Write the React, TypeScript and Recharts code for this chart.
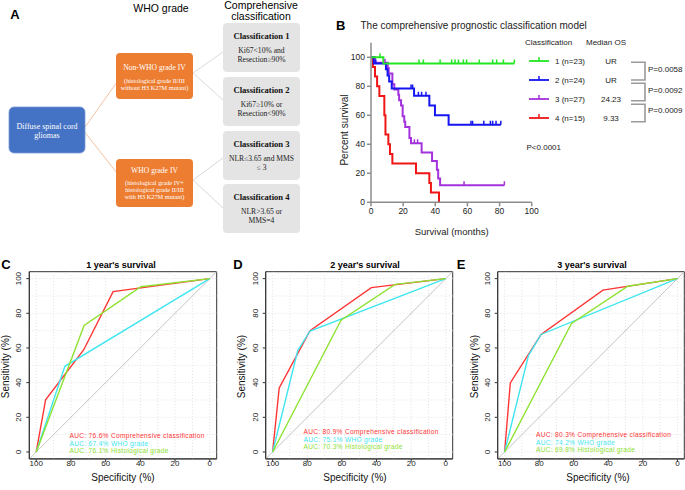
import React from "react";
import {
  ComposedChart,
  LineChart,
  Line,
  Scatter,
  XAxis,
  YAxis,
  ReferenceLine,
  ReferenceArea,
} from "recharts";

const SANS = '"Liberation Sans", Arial, sans-serif';
const SERIF = '"Liberation Serif", "Times New Roman", serif';

// ---------- Panel B: Kaplan-Meier data (months, percent survival)
const kmTicksX = [0, 20, 40, 60, 80, 100];
const kmTicksY = [0, 20, 40, 60, 80, 100];

const c1Times = [0, 7.7, 89.2];
const c1Surv = [100, 95.65, 95.65];
const c1Censor = [5.6, 29.9, 32.6, 43, 50.2, 52.3, 54.4, 57.5, 59.5, 67.4, 75.7, 78.2, 82.4, 89.2];

const c2Times = [0, 1.7, 9.3, 10.3, 11.3, 12.9, 26.8, 36.3, 39.8, 48.3, 80.8];
const c2Surv = [100, 95.8, 91.7, 87.5, 83.3, 78.4, 73.5, 66.8, 60.1, 53.4, 53.4];
const c2Censor = [3, 24.9, 25.9, 29.5, 31.5, 34.2, 62.2, 63.2, 70.2, 74.3, 75.7, 77.8, 80.8];

const c3Times = [0, 2.5, 10.4, 11, 13.3, 14.5, 17, 17.5, 18.7, 19.7, 20.7, 21.3, 23.9, 24.9, 31.5, 38, 41, 41.8, 43, 83];
const c3Surv = [100, 96.3, 92.6, 88.9, 81.5, 77.8, 74.1, 70.4, 66.7, 59.3, 55.6, 51.9, 44.4, 40.7, 34.4, 28.5, 22.5, 16.5, 11.8, 11.8];
const c3Censor = [8.7, 27, 29, 57.9, 83];

const c4Times = [0, 1.2, 2.5, 3.8, 5.2, 8.3, 9, 10.8, 11.8, 13.3, 28, 36.3, 37.3, 42.3];
const c4Surv = [100, 93.3, 86.7, 80, 73.3, 60, 46.7, 40, 33.3, 26.7, 20, 13.3, 6.7, 0];
const c4Censor: number[] = [];

const kmGroups = ["1 (n=23)", "2 (n=24)", "3 (n=27)", "4 (n=15)"];
const kmMedians = ["UR", "UR", "24.23", "9.33"];
const kmColors = ["#22e622", "#1515f0", "#a332dc", "#f01515"];
const kmPairP = ["P=0.0058", "P=0.0092", "P=0.0009"];

// ---------- Panels C-E: ROC data (specificity %, sensitivity %)
const rocTicks = [100, 80, 60, 40, 20, 0];
const rocGrid = [0, 10, 20, 30, 40, 50, 60, 70, 80, 90, 100];
const rocColors = ["#ff3535", "#3fe6f0", "#8ee232"];
const rocNames = ["Comprehensive classification", "WHO grade", "Histological grade"];

const cSpecComp = [100, 94.6, 72.6, 55.7, 0];
const cSensComp = [0, 30.1, 59, 92.5, 100];
const cSpecWho = [100, 83.5, 0];
const cSensWho = [0, 49.4, 100];
const cSpecHist = [100, 72.4, 39.7, 0];
const cSensHist = [0, 73, 95.3, 100];
const cAuc = ["76.6%", "67.4%", "76.1%"];

const dSpecComp = [100, 96.2, 78.4, 43, 0];
const dSensComp = [0, 36.9, 70, 94.8, 100];
const dSpecWho = [100, 85.5, 78.4, 0];
const dSensWho = [0, 58.5, 69.8, 100];
const dSpecHist = [100, 60.5, 29.3, 0];
const dSensHist = [0, 76, 96.7, 100];
const dAuc = ["80.9%", "75.1%", "70.3%"];

const eSpecComp = [100, 96.7, 78.9, 43.1, 0];
const eSensComp = [0, 39.8, 67.8, 93.4, 100];
const eSpecWho = [100, 86.2, 78.9, 0];
const eSensWho = [0, 55.6, 67.8, 100];
const eSpecHist = [100, 61.3, 28.7, 0];
const eSensHist = [0, 74.1, 95.6, 100];
const eAuc = ["80.3%", "74.2%", "69.8%"];

const zipKm = (times: number[], surv: number[]) => times.map((t, i) => ({ t, s: surv[i] }));
const survAt = (times: number[], surv: number[], t: number) => {
  let v = surv[0];
  times.forEach((tt, i) => {
    if (tt <= t) v = surv[i];
  });
  return v;
};
const censorPts = (times: number[], surv: number[], cens: number[]) =>
  cens.map((t) => ({ t, s: survAt(times, surv, t) }));
const zipRoc = (spec: number[], sens: number[]) => spec.map((x, i) => ({ spec: x, sens: sens[i] }));

const kmSeries = [
  { line: zipKm(c1Times, c1Surv), cens: censorPts(c1Times, c1Surv, c1Censor) },
  { line: zipKm(c2Times, c2Surv), cens: censorPts(c2Times, c2Surv, c2Censor) },
  { line: zipKm(c3Times, c3Surv), cens: censorPts(c3Times, c3Surv, c3Censor) },
  { line: zipKm(c4Times, c4Surv), cens: censorPts(c4Times, c4Surv, c4Censor) },
];

const makeTick = (color: string) => (props: any) => {
  const { cx, cy } = props;
  if (cx == null || cy == null) return <g />;
  return <line x1={cx} x2={cx} y1={cy - 4} y2={cy} stroke={color} strokeWidth={1.5} />;
};

function KmChart() {
  const axisStyle = { stroke: "#8c8c8c", strokeWidth: 1.5 };
  return (
    <div style={{ position: "absolute", left: 340, top: 30 }}>
      <ComposedChart width={200} height={200} margin={{ top: 12.8, right: 8.3, bottom: 7.7, left: 11 }}>
        <XAxis
          type="number"
          dataKey="t"
          domain={[0, 100]}
          ticks={kmTicksX}
          allowDataOverflow
          height={20}
          tickSize={4}
          tickMargin={2}
          axisLine={axisStyle}
          tickLine={axisStyle}
          tick={{ fontSize: 8.5, fill: "#222", fontFamily: SANS }}
        />
        <YAxis
          type="number"
          dataKey="s"
          domain={[0, 110]}
          ticks={kmTicksY}
          allowDataOverflow
          width={20}
          tickSize={4}
          tickMargin={2}
          axisLine={axisStyle}
          tickLine={axisStyle}
          tick={{ fontSize: 8.5, fill: "#222", fontFamily: SANS }}
        />
        {[3, 2, 1, 0].map((i) => (
          <Line
            key={"l" + i}
            data={kmSeries[i].line}
            dataKey="s"
            type="stepAfter"
            stroke={kmColors[i]}
            strokeWidth={2}
            dot={false}
            isAnimationActive={false}
          />
        ))}
        {[3, 2, 1, 0].map((i) => (
          <Scatter
            key={"c" + i}
            data={kmSeries[i].cens}
            dataKey="s"
            fill={kmColors[i]}
            shape={makeTick(kmColors[i])}
            isAnimationActive={false}
          />
        ))}
      </ComposedChart>
    </div>
  );
}

const RotTick = (props: any) => {
  const { x, y, payload } = props;
  return (
    <text
      transform={`translate(${x},${y}) rotate(-90)`}
      textAnchor="middle"
      fontSize={8}
      fontFamily={SANS}
      fill="#222"
    >
      {payload.value}
    </text>
  );
};

interface RocProps {
  left: number;
  width: number;
  ml: number;
  mr: number;
  series: { spec: number; sens: number }[][];
}

function RocChart({ left, width, ml, mr, series }: RocProps) {
  return (
    <div style={{ position: "absolute", left, top: 250 }}>
      <LineChart width={width} height={240} margin={{ top: 21.7, right: mr, bottom: 11.1, left: ml }}>
        <XAxis
          type="number"
          dataKey="spec"
          domain={[-4, 104]}
          reversed
          ticks={rocTicks}
          allowDataOverflow
          height={20}
          tickSize={3}
          tickMargin={-2}
          axisLine={{ stroke: "#333" }}
          tickLine={{ stroke: "#333" }}
          tick={{ fontSize: 8, fill: "#222", fontFamily: SANS }}
        />
        <YAxis
          type="number"
          dataKey="sens"
          domain={[-4, 104]}
          ticks={rocTicks}
          allowDataOverflow
          width={20}
          tickSize={3}
          tickMargin={5}
          axisLine={{ stroke: "#333" }}
          tickLine={{ stroke: "#333" }}
          tick={<RotTick />}
        />
        {rocGrid.map((g) => (
          <ReferenceLine key={"gx" + g} x={g} stroke="#e2e2e2" strokeDasharray="1 2" />
        ))}
        {rocGrid.map((g) => (
          <ReferenceLine key={"gy" + g} y={g} stroke="#e2e2e2" strokeDasharray="1 2" />
        ))}
        <ReferenceLine
          segment={[
            { x: 104, y: -4 },
            { x: -4, y: 104 },
          ]}
          stroke="#c4c4c4"
          strokeWidth={1}
        />
        <ReferenceArea x1={-4} x2={104} y1={-4} y2={104} fill="none" fillOpacity={0} stroke="#333" strokeWidth={1} />
        {series.map((d, i) => (
          <Line
            key={i}
            data={d}
            dataKey="sens"
            type="linear"
            stroke={rocColors[i]}
            strokeWidth={1.4}
            dot={false}
            isAnimationActive={false}
          />
        ))}
      </LineChart>
    </div>
  );
}

function Flowchart() {
  const grey = [
    { y: 23, title: "Classification 1", lines: ["Ki67<10% and", "Resection≥90%"] },
    { y: 77, title: "Classification 2", lines: ["Ki67≥10% or", "Resection<90%"] },
    { y: 131, title: "Classification 3", lines: ["NLR≤3.65 and MMS", "≤ 3"] },
    { y: 184, title: "Classification 4", lines: ["NLR>3.65 or", "MMS=4"] },
  ];
  return (
    <g>
      <text x={15} y={14} fontSize={13} fontWeight="bold" fontFamily={SANS} dominantBaseline="central" textAnchor="middle">A</text>
      <text x={161} y={8} fontSize={10.5} fontFamily={SANS} textAnchor="middle" dominantBaseline="central">WHO grade</text>
      <text x={261} y={5} fontSize={10.5} fontFamily={SANS} textAnchor="middle" dominantBaseline="central">Comprehensive</text>
      <text x={261} y={15.5} fontSize={10.5} fontFamily={SANS} textAnchor="middle" dominantBaseline="central">classification</text>

      {/* connectors */}
      <line x1={83} y1={130} x2={117} y2={82} stroke="#f2b48a" strokeWidth={0.8} />
      <line x1={83} y1={130} x2={117} y2={173} stroke="#f2b48a" strokeWidth={0.8} />
      <line x1={193} y1={73} x2={223} y2={52} stroke="#cfcfcf" strokeWidth={0.8} />
      <line x1={193} y1={73} x2={223} y2={100} stroke="#cfcfcf" strokeWidth={0.8} />
      <line x1={193} y1={180} x2={223} y2={158} stroke="#cfcfcf" strokeWidth={0.8} />
      <line x1={193} y1={180} x2={223} y2={208} stroke="#cfcfcf" strokeWidth={0.8} />

      <rect x={9} y={107} width={76} height={46} rx={5} fill="#4472c4" stroke="#7b9bd6" strokeWidth={0.8} />
      <text x={47} y={126} fontSize={8} fontFamily={SERIF} fill="#fff" textAnchor="middle" dominantBaseline="central">Diffuse spinal cord</text>
      <text x={47} y={135} fontSize={8} fontFamily={SERIF} fill="#fff" textAnchor="middle" dominantBaseline="central">gliomas</text>

      <rect x={116} y={53} width={77} height={46} rx={4} fill="#ed7d31" />
      <text x={154.5} y={67.7} fontSize={7.6} fontFamily={SERIF} fill="#fff" textAnchor="middle" dominantBaseline="central">Non-WHO grade IV</text>
      <text x={154.5} y={80} fontSize={6.3} fontFamily={SERIF} fill="#fff" textAnchor="middle" dominantBaseline="central">(histological grade II/III</text>
      <text x={154.5} y={87.3} fontSize={6.3} fontFamily={SERIF} fill="#fff" textAnchor="middle" dominantBaseline="central">without H3 K27M mutant)</text>

      <rect x={116} y={159} width={77} height={48} rx={4} fill="#ed7d31" />
      <text x={154.5} y={170} fontSize={7.6} fontFamily={SERIF} fill="#fff" textAnchor="middle" dominantBaseline="central">WHO grade IV</text>
      <text x={154.5} y={182.3} fontSize={6.3} fontFamily={SERIF} fill="#fff" textAnchor="middle" dominantBaseline="central">(histological grade IV+</text>
      <text x={154.5} y={189.5} fontSize={6.3} fontFamily={SERIF} fill="#fff" textAnchor="middle" dominantBaseline="central">histological grade II/III</text>
      <text x={154.5} y={196.7} fontSize={6.3} fontFamily={SERIF} fill="#fff" textAnchor="middle" dominantBaseline="central">with H3 K27M mutant)</text>

      {grey.map((g) => (
        <g key={g.title}>
          <rect x={223} y={g.y} width={77} height={49} rx={4} fill="#e4e4e4" />
          <text x={261.5} y={g.y + 13} fontSize={8.6} fontWeight="bold" fontFamily={SERIF} fill="#111" textAnchor="middle" dominantBaseline="central">{g.title}</text>
          <text x={261.5} y={g.y + 27.5} fontSize={7.6} fontFamily={SERIF} fill="#222" textAnchor="middle" dominantBaseline="central">{g.lines[0]}</text>
          <text x={261.5} y={g.y + 36.5} fontSize={7.6} fontFamily={SERIF} fill="#222" textAnchor="middle" dominantBaseline="central">{g.lines[1]}</text>
        </g>
      ))}
    </g>
  );
}

function KmAnnotations() {
  const rowY = [61, 80, 99, 118];
  const brackets = [
    [62.3, 80],
    [83.3, 100.7],
    [104.3, 121.7],
  ];
  const pY = [69.3, 90, 110];
  return (
    <g fontFamily={SANS}>
      <text x={336} y={25} fontSize={13} fontWeight="bold" dominantBaseline="central">B</text>
      <text x={360.5} y={25} fontSize={10} fill="#222" dominantBaseline="central">The comprehensive prognostic classification model</text>
      <text transform="translate(344,130) rotate(-90)" fontSize={10} fill="#222" textAnchor="middle" dominantBaseline="central">Percent survival</text>
      <text x={451.7} y={231} fontSize={9.5} fill="#222" textAnchor="middle" dominantBaseline="central">Survival (months)</text>
      <text x={525} y={42.3} fontSize={8} fill="#222" dominantBaseline="central">Classification</text>
      <text x={586} y={42.3} fontSize={8} fill="#222" dominantBaseline="central">Median OS</text>
      {kmGroups.map((g, i) => (
        <g key={g}>
          <line x1={529} x2={549} y1={rowY[i]} y2={rowY[i]} stroke={kmColors[i]} strokeWidth={1.8} />
          <line x1={539} x2={539} y1={rowY[i] - 4} y2={rowY[i]} stroke={kmColors[i]} strokeWidth={1.5} />
          <text x={555} y={rowY[i]} fontSize={8} fill="#222" dominantBaseline="central">{g}</text>
          <text x={611} y={rowY[i] + 0.5} fontSize={8} fill="#222" textAnchor="middle" dominantBaseline="central">{kmMedians[i]}</text>
        </g>
      ))}
      {brackets.map((b, i) => (
        <g key={i}>
          <polyline
            points={`631,${b[0]} 645,${b[0]} 645,${b[1]} 631,${b[1]}`}
            fill="none"
            stroke="#9a9a9a"
            strokeWidth={1.6}
          />
          <text x={648} y={pY[i]} fontSize={8} fill="#222" dominantBaseline="central">{kmPairP[i]}</text>
        </g>
      ))}
      <text x={526.5} y={147.5} fontSize={8} fill="#222" dominantBaseline="central">P&lt;0.0001</text>
    </g>
  );
}

function RocAnnotations({
  letter, lx, title, tx, ylx, sx, legX, legY, auc,
}: {
  letter: string; lx: number; title: string; tx: number; ylx: number; sx: number;
  legX: number; legY: number; auc: string[];
}) {
  return (
    <g fontFamily={SANS}>
      <text x={lx} y={264} fontSize={13} fontWeight="bold" textAnchor="middle" dominantBaseline="central">{letter}</text>
      <text x={tx} y={264.5} fontSize={9} fontWeight="bold" textAnchor="middle" dominantBaseline="central">{title}</text>
      <text transform={`translate(${ylx},366.5) rotate(-90)`} fontSize={10} textAnchor="middle" dominantBaseline="central" fill="#111">Sensitivity (%)</text>
      <text x={sx} y={477} fontSize={10} textAnchor="middle" dominantBaseline="central" fill="#111">Specificity (%)</text>
      {auc.map((a, i) => (
        <text
          key={i}
          x={legX}
          y={legY + i * 7.6}
          fontSize={6.6}
          letterSpacing={0.3}
          fill={rocColors[i]}
          dominantBaseline="central"
        >
          {`AUC: ${a} ${rocNames[i]}`}
        </text>
      ))}
    </g>
  );
}

export default function App() {
  const cSeries = [zipRoc(cSpecComp, cSensComp), zipRoc(cSpecWho, cSensWho), zipRoc(cSpecHist, cSensHist)];
  const dSeries = [zipRoc(dSpecComp, dSensComp), zipRoc(dSpecWho, dSensWho), zipRoc(dSpecHist, dSensHist)];
  const eSeries = [zipRoc(eSpecComp, eSensComp), zipRoc(eSpecWho, eSensWho), zipRoc(eSpecHist, eSensHist)];
  return (
    <div style={{ position: "absolute", left: 0, top: 0, width: 685, height: 490, background: "#fff", overflow: "hidden" }}>
      <KmChart />
      <RocChart left={0} width={230} ml={9.3} mr={13.3} series={cSeries} />
      <RocChart left={230} width={230} ml={15.7} mr={7.3} series={dSeries} />
      <RocChart left={460} width={225} ml={17.7} mr={0.7} series={eSeries} />
      <svg width={685} height={490} style={{ position: "absolute", left: 0, top: 0, pointerEvents: "none" }}>
        <Flowchart />
        <KmAnnotations />
        <RocAnnotations letter="C" lx={6} title="1 year's survival" tx={121} ylx={5.5} sx={123} legX={69.5} legY={435.5} auc={cAuc} />
        <RocAnnotations letter="D" lx={238} title="2 year's survival" tx={365} ylx={241.5} sx={355} legX={303.5} legY={431.7} auc={dAuc} />
        <RocAnnotations letter="E" lx={461} title="3 year's survival" tx={592} ylx={474.5} sx={598} legX={536} legY={434.5} auc={eAuc} />
      </svg>
    </div>
  );
}
